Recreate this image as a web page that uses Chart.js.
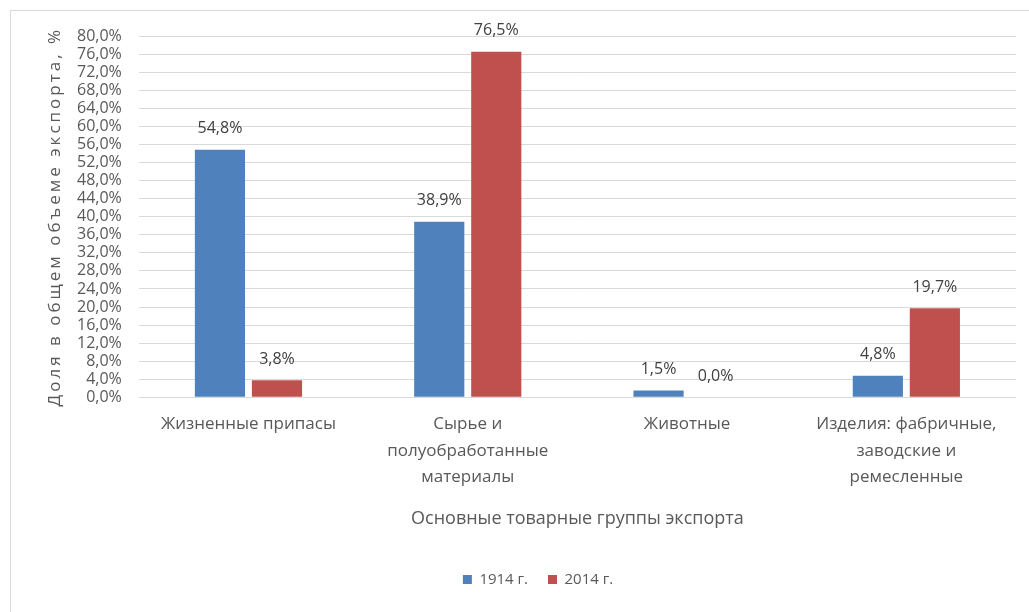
<!DOCTYPE html>
<html>
<head>
<meta charset="utf-8">
<script src="https://cdn.jsdelivr.net/npm/chart.js@4"></script>
<style>
  html, body { margin: 0; padding: 0; background: #fff; }
  #wrap { width: 1029px; height: 612px; }
</style>
</head>
<body>
<div id="wrap"><canvas id="exportChart"></canvas></div>
<script>
const categories = [
    'Жизненные припасы',
    ['Сырье и', 'полуобработанные', 'материалы'],
    'Животные',
    ['Изделия: фабричные,', 'заводские и', 'ремесленные']
];
const values1914 = [54.8, 38.9, 1.5, 4.8];
const values2014 = [3.8, 76.5, 0.0, 19.7];
const seriesNames = ['1914 г.', '2014 г.'];
const yTitle = 'Доля в общем объеме экспорта, %';
const xTitle = 'Основные товарные группы экспорта';

const fontFamily = '"Open Sans", sans-serif';
const textColor = '#595959';

function fmt(v) {
    return v.toFixed(1).replace('.', ',') + '%';
}

// рамка области диаграммы
const frame = {
    id: 'frame',
    beforeDraw(chart) {
        const ctx = chart.ctx;
        ctx.save();
        ctx.strokeStyle = '#d9d9d9';
        ctx.lineWidth = 1;
        ctx.strokeRect(10.5, 10.5, 1100, 700);
        ctx.restore();
    }
};

// подпись оси Y с разрядкой
const yAxisTitle = {
    id: 'yAxisTitle',
    afterDraw(chart) {
        const ctx = chart.ctx;
        const area = chart.chartArea;
        ctx.save();
        ctx.translate(55, (area.top + area.bottom) / 2);
        ctx.rotate(-Math.PI / 2);
        ctx.font = '17px ' + fontFamily;
        ctx.letterSpacing = '3px';
        ctx.fillStyle = textColor;
        ctx.textAlign = 'center';
        ctx.textBaseline = 'middle';
        ctx.fillText(yTitle, 0, 0);
        ctx.restore();
    }
};

// подписи значений над столбцами
const valueLabels = {
    id: 'valueLabels',
    afterDatasetsDraw(chart) {
        const ctx = chart.ctx;
        ctx.save();
        ctx.font = '16px ' + fontFamily;
        ctx.fillStyle = '#404040';
        ctx.textAlign = 'center';
        ctx.textBaseline = 'bottom';
        chart.data.datasets.forEach((ds, i) => {
            chart.getDatasetMeta(i).data.forEach((bar, j) => {
                ctx.fillText(fmt(ds.data[j]), bar.x, bar.y - 13);
            });
        });
        ctx.restore();
    }
};

const ctx = document.getElementById('exportChart').getContext('2d');

new Chart(ctx, {
    type: 'bar',
    data: {
        labels: categories,
        datasets: [{
            label: seriesNames[0],
            data: values1914,
            backgroundColor: '#4F81BD'
        }, {
            label: seriesNames[1],
            data: values2014,
            backgroundColor: '#C0504D'
        }]
    },
    options: {
        responsive: true,
        maintainAspectRatio: false,
        animation: false,
        layout: {
            padding: { left: 60, right: 13, top: 36, bottom: 15 }
        },
        datasets: {
            bar: {
                categoryPercentage: 0.52,
                barPercentage: 0.88
            }
        },
        scales: {
            x: {
                grid: { display: false, drawTicks: false },
                border: { display: false },
                ticks: {
                    color: textColor,
                    font: { family: fontFamily, size: 17, lineHeight: 1.55 },
                    maxRotation: 0,
                    padding: 14
                },
                title: {
                    display: true,
                    text: xTitle,
                    color: textColor,
                    font: { family: fontFamily, size: 18 },
                    padding: { top: 4, bottom: 22 }
                }
            },
            y: {
                min: 0,
                max: 80,
                grid: { color: '#d9d9d9', drawTicks: false },
                border: { display: false },
                ticks: {
                    stepSize: 4,
                    autoSkip: false,
                    color: textColor,
                    font: { family: fontFamily, size: 16, lineHeight: 1 },
                    padding: 17,
                    callback: (v) => fmt(v)
                }
            }
        },
        plugins: {
            legend: {
                position: 'bottom',
                labels: {
                    color: textColor,
                    font: { family: fontFamily, size: 15 },
                    boxWidth: 9,
                    boxHeight: 9,
                    padding: 20
                }
            },
            tooltip: { enabled: false }
        }
    },
    plugins: [frame, yAxisTitle, valueLabels]
});
</script>
</body>
</html>
